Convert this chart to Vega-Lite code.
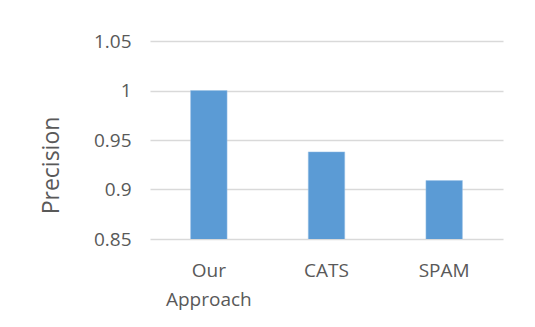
{
  "$schema": "https://vega.github.io/schema/vega-lite/v6.json",
  "autosize": {"type": "none"},
  "padding": {"left": 150, "top": 41, "right": 32, "bottom": 88},
  "width": 353,
  "height": 198,
  "background": "white",
  "config": {"view": {"stroke": null}},
  "data": {"values": [
    {"method": "Our Approach", "precision": 1.0},
    {"method": "CATS", "precision": 0.938},
    {"method": "SPAM", "precision": 0.909}
  ]},
  "mark": {"type": "bar", "color": "#5B9BD5", "stroke": "#9dc3e6", "strokeWidth": 0.5, "clip": true},
  "encoding": {
    "x": {
      "field": "method", "type": "nominal", "sort": null,
      "scale": {"paddingInner": 0.69, "paddingOuter": 0.345},
      "axis": {
        "title": null, "domain": false, "ticks": false, "labelAngle": 0,
        "labelFont": "Open Sans", "labelFontSize": 19, "labelColor": "#595959",
        "labelPadding": 22, "labelLineHeight": 29,
        "labelExpr": "datum.label == 'Our Approach' ? ['Our', 'Approach'] : datum.label"
      }
    },
    "y": {
      "field": "precision", "type": "quantitative",
      "scale": {"domain": [0.85, 1.05], "zero": false},
      "axis": {
        "title": "Precision", "values": [0.85, 0.9, 0.95, 1.0, 1.05], "format": ".2~f",
        "domain": false, "ticks": false, "grid": true, "gridColor": "#d9d9d9", "gridWidth": 1.5,
        "labelFont": "Open Sans", "labelFontSize": 19, "labelColor": "#595959", "labelPadding": 19,
        "titleFont": "Open Sans", "titleFontSize": 23, "titleFontWeight": "normal", "titleColor": "#595959",
        "titlePadding": 30, "titleY": 124
      }
    }
  }
}
